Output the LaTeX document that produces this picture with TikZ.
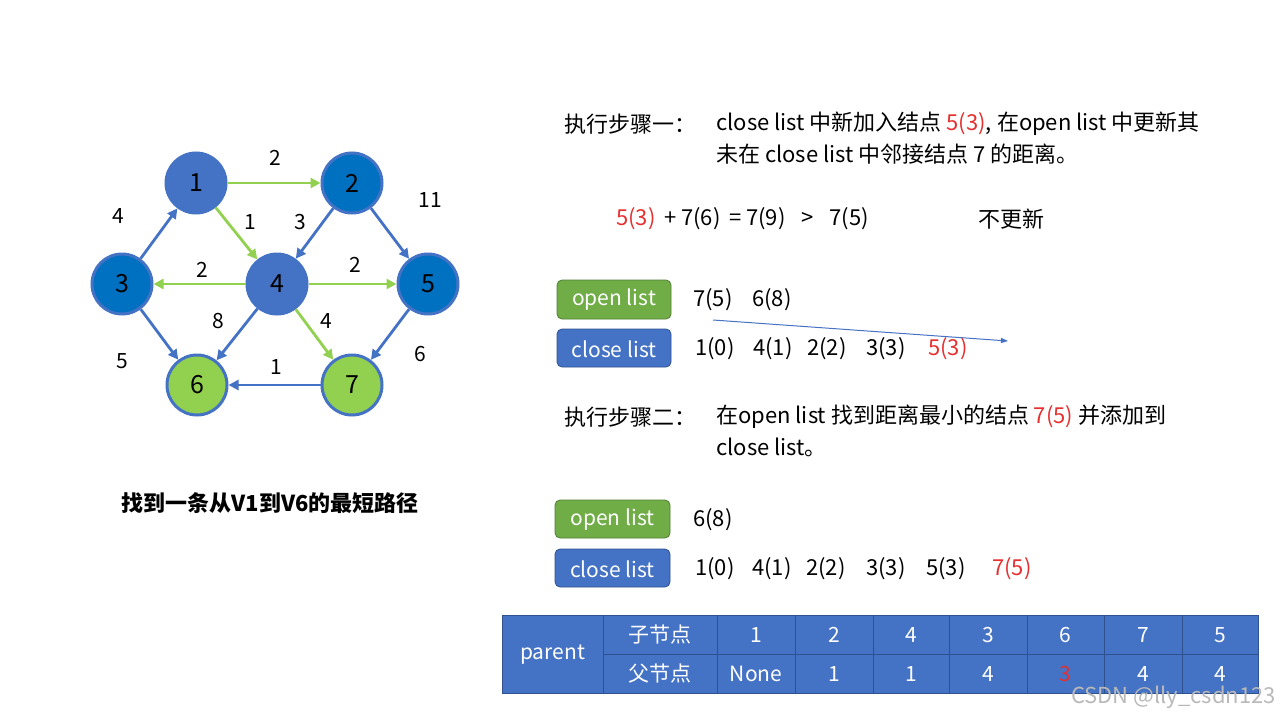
\documentclass[tikz,border=0pt]{standalone}
\usepackage{fontspec}
\setmainfont{Noto Sans CJK SC}
\usetikzlibrary{arrows.meta}
\definecolor{oblue}{HTML}{4472C4}
\definecolor{bblue}{HTML}{2F528F}
\definecolor{dblue}{HTML}{0070C0}
\definecolor{lgreen}{HTML}{92D050}
\definecolor{ogreen}{HTML}{70AD47}
\definecolor{ggreen}{HTML}{507E32}
\definecolor{redt}{HTML}{E53030}
\tikzset{
  vtx/.style={circle, minimum size=60pt, inner sep=0pt, line width=3pt, font=\fontsize{25}{27}\selectfont},
  vA/.style={vtx, fill=oblue, draw=oblue},
  vB/.style={vtx, fill=dblue, draw=oblue},
  vC/.style={vtx, fill=lgreen, draw=oblue},
  eb/.style={draw=oblue, line width=2.8pt, -{Triangle[length=10pt,width=10pt]}},
  eg/.style={draw=lgreen, line width=2.8pt, -{Triangle[length=10pt,width=10pt]}},
  wl/.style={font=\fontsize{21}{23}\selectfont, inner sep=0pt},
  txt/.style={font=\fontsize{22}{25}\selectfont, inner sep=0pt, anchor=west},
  gbox/.style={rounded corners=5pt, fill=ogreen, draw=ggreen, line width=0.8pt},
  bbox/.style={rounded corners=5pt, fill=oblue, draw=bblue, line width=0.8pt},
  btxt/.style={font=\fontsize{21}{24}\selectfont, text=white, inner sep=0pt},
  cell/.style={fill=oblue, draw=bblue, line width=0.8pt},
  ctxt/.style={font=\fontsize{21}{24}\selectfont, text=white, inner sep=0pt},
}
\begin{document}
\begin{tikzpicture}[x=1pt,y=-1pt]
\useasboundingbox (0,0) rectangle (1280,720);
% graph
\node[vA] (n1) at (196,183) {1};
\node[vB] (n2) at (352,183) {2};
\node[vB] (n3) at (122,284) {3};
\node[vA] (n4) at (277,284) {4};
\node[vB] (n5) at (428,284) {5};
\node[vC] (n6) at (197,385) {6};
\node[vC] (n7) at (352,385) {7};
\draw[eg] (n1) -- (n2);
\draw[eg] (n1) -- (n4);
\draw[eb] (n2) -- (n4);
\draw[eb] (n2) -- (n5);
\draw[eb] (n3) -- (n1);
\draw[eg] (n4) -- (n3);
\draw[eg] (n4) -- (n5);
\draw[eb] (n4) -- (n6);
\draw[eg] (n4) -- (n7);
\draw[eb] (n3) -- (n6);
\draw[eb] (n5) -- (n7);
\draw[eb] (n7) -- (n6);
\node[wl] (w12) at (275,158) {2};
\node[wl] (w25) at (430,200) {11};
\node[wl] (w31) at (118,216) {4};
\node[wl] (w14) at (250,222) {1};
\node[wl] (w24) at (300,222) {3};
\node[wl] (w43) at (202,270) {2};
\node[wl] (w45) at (355,265) {2};
\node[wl] (w46) at (218,321) {8};
\node[wl] (w47) at (326,321) {4};
\node[wl] (w36) at (122,361) {5};
\node[wl] (w76) at (276,367) {1};
\node[wl] (w57) at (420,354) {6};
\node[font=\fontsize{22}{24}\selectfont\bfseries, inner sep=0pt] (cap) at (270,503) {找到一条从V1到V6的最短路径};
% step 1
\node[txt] (s1) at (564,124) {执行步骤一：};
\node[txt] (s1a) at (716,124) {close list 中新加入结点 \textcolor{redt}{5(3)}, 在open list 中更新其};
\node[txt] (s1b) at (716,154) {未在 close list 中邻接结点 7 的距离。};
\node[txt] (eq) at (616,219) {\textcolor{redt}{5(3)} \,+ 7(6) \,= 7(9) \,\,\,>\,\,\, 7(5)};
\node[txt] (nu) at (978,219) {不更新};
% lists 1
\draw[gbox] (557,280) rectangle (671,319);
\node[btxt] (ol1) at (614,300) {open list};
\draw[bbox] (557,329) rectangle (671,367);
\node[btxt] (cl1) at (614,349) {close list};
\node[txt] (o11) at (693,300) {7(5)};
\node[txt] (o12) at (752,300) {6(8)};
\node[txt] (c11) at (695,349) {1(0)};
\node[txt] (c12) at (753,349) {4(1)};
\node[txt] (c13) at (807,349) {2(2)};
\node[txt] (c14) at (866,349) {3(3)};
\node[txt, text=redt] (c15) at (928,349) {5(3)};
\coordinate (ar1) at (713,320);
\coordinate (ar2) at (1008,341);
\draw[draw=oblue, line width=1pt, -{Triangle[length=7pt,width=5pt]}] (ar1) -- (ar2);
% step 2
\node[txt] (s2) at (564,417) {执行步骤二：};
\node[txt] (s2a) at (716,417) {在open list 找到距离最小的结点 \textcolor{redt}{7(5)} 并添加到};
\node[txt] (s2b) at (716,447) {close list。};
\draw[gbox] (555,500) rectangle (670,538);
\node[btxt] (ol2) at (612.5,520) {open list};
\draw[bbox] (555,549) rectangle (670,587);
\node[btxt] (cl2) at (612.5,569) {close list};
\node[txt] (o21) at (693,520) {6(8)};
\node[txt] (c21) at (695,569) {1(0)};
\node[txt] (c22) at (752,569) {4(1)};
\node[txt] (c23) at (806,569) {2(2)};
\node[txt] (c24) at (866,569) {3(3)};
\node[txt] (c25) at (926,569) {5(3)};
\node[txt, text=redt] (c26) at (992,569) {7(5)};
% table
\draw[cell] (502,615) rectangle (603,693);
\node[ctxt] (tp) at (552.5,655) {parent};
\draw[cell] (603,615) rectangle (717,654);
\draw[cell] (603,654) rectangle (717,693);
\node[ctxt] (tz) at (660,635) {子节点};
\node[ctxt] (tf) at (660,674) {父节点};
\foreach \xa/\xb/\ch/\pa [count=\i] in {717/795/1/None, 795/873/2/1, 873/949/4/1, 949/1027/3/4, 1027/1104/6/\textcolor{redt}{3}, 1104/1182/7/4, 1182/1258/5/4} {
  \draw[cell] (\xa,615) rectangle (\xb,654);
  \draw[cell] (\xa,654) rectangle (\xb,693);
  \node[ctxt] (tc\i) at ({(\xa+\xb)/2},635) {\ch};
  \node[ctxt] (tq\i) at ({(\xa+\xb)/2},674) {\pa};
}
\node[font=\fontsize{22}{24}\selectfont, text=gray!55, inner sep=0pt, anchor=east] (wm) at (1276,697) {CSDN @lly\_csdn123};
\end{tikzpicture}
\end{document}
